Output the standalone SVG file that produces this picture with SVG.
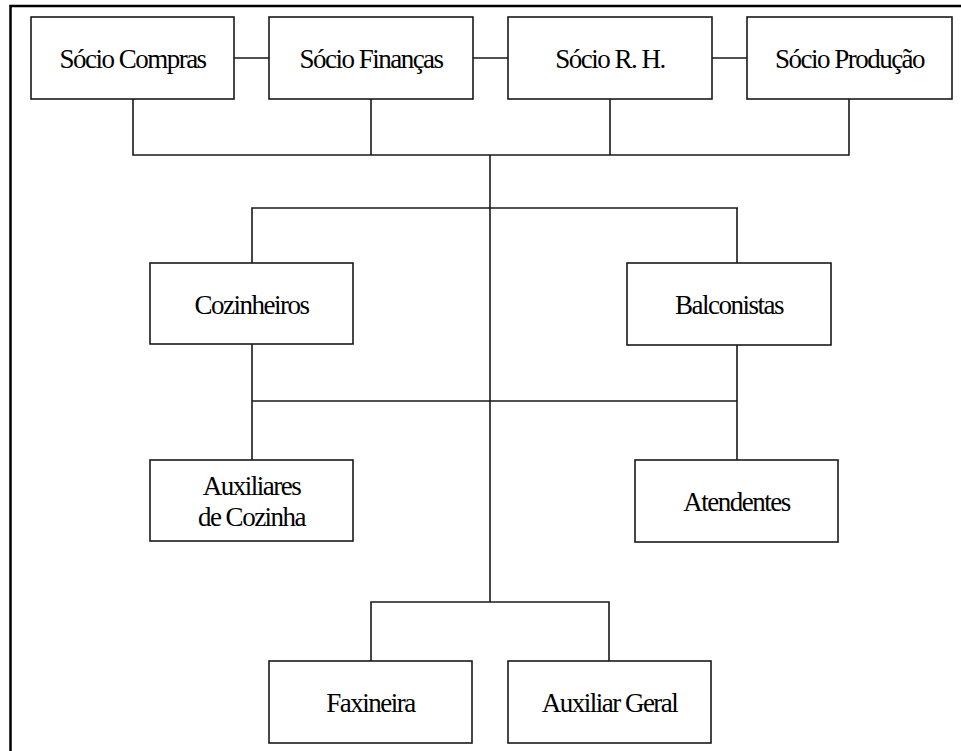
<svg xmlns="http://www.w3.org/2000/svg" width="961" height="751" viewBox="0 0 961 751">
<style>
.box{fill:#fff;stroke:#1a1a1a;stroke-width:1.6}
.t{font-family:"Liberation Serif","Times New Roman",serif;font-size:27px;letter-spacing:-1.5px;fill:#000;text-anchor:middle}
.c{fill:none;stroke:#1a1a1a;stroke-width:1.6}
</style>
<rect x="0" y="0" width="961" height="751" fill="#fff"/>
<path d="M10.5 751 V6 H961" fill="none" stroke="#000" stroke-width="2.5"/>
<g id="connectors" class="c">
<path d="M234 58 H269 M473 58 H508 M712 58 H747"/>
<path d="M133 99 V155 H849 V99 M371 99 V155 M610 99 V155"/>
<path d="M490 155 V602"/>
<path d="M252 263 V208 H738 M737 208 V263"/>
<path d="M252 344 V460 M252 401 H737 M737 345 V460"/>
<path d="M371 661 V602 H609 V661"/>
</g>
<g id="socio-compras"><rect class="box" x="31" y="17" width="203" height="82"/><text class="t" x="132.5" y="68">Sócio Compras</text></g>
<g id="socio-financas"><rect class="box" x="269" y="17" width="204" height="82"/><text class="t" x="371" y="68">Sócio Finanças</text></g>
<g id="socio-rh"><rect class="box" x="508" y="17" width="204" height="82"/><text class="t" x="610" y="68">Sócio R. H.</text></g>
<g id="socio-producao"><rect class="box" x="747" y="17" width="205" height="82"/><text class="t" x="849.5" y="68">Sócio Produção</text></g>
<g id="cozinheiros"><rect class="box" x="150" y="263" width="203" height="81"/><text class="t" x="251.5" y="314">Cozinheiros</text></g>
<g id="balconistas"><rect class="box" x="627" y="263" width="204" height="82"/><text class="t" x="729" y="314">Balconistas</text></g>
<g id="auxiliares-cozinha"><rect class="box" x="150" y="460" width="203" height="81"/><text class="t" x="251.5" y="495">Auxiliares</text><text class="t" x="251.5" y="526">de Cozinha</text></g>
<g id="atendentes"><rect class="box" x="635" y="460" width="203" height="82"/><text class="t" x="736.5" y="511">Atendentes</text></g>
<g id="faxineira"><rect class="box" x="269" y="661" width="203" height="82"/><text class="t" x="370.5" y="712">Faxineira</text></g>
<g id="auxiliar-geral"><rect class="box" x="508" y="661" width="203" height="82"/><text class="t" x="609.5" y="712">Auxiliar Geral</text></g>
</svg>
